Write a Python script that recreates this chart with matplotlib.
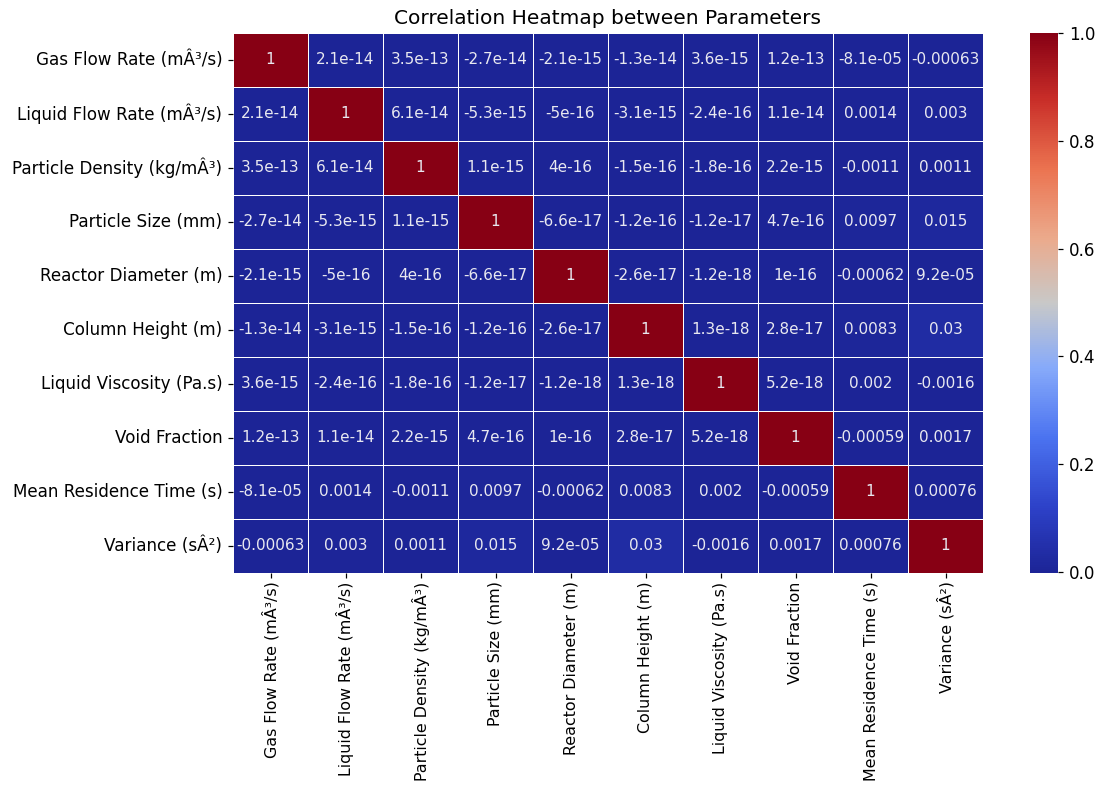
import numpy as np
import pandas as pd
import matplotlib
matplotlib.use('Agg')
import matplotlib.pyplot as plt
from matplotlib.colors import LinearSegmentedColormap
import seaborn as sns

# Nama parameter (label sumbu, termasuk karakter encoding asli)
params = [
    'Gas Flow Rate (mÂ³/s)',
    'Liquid Flow Rate (mÂ³/s)',
    'Particle Density (kg/mÂ³)',
    'Particle Size (mm)',
    'Reactor Diameter (m)',
    'Column Height (m)',
    'Liquid Viscosity (Pa.s)',
    'Void Fraction',
    'Mean Residence Time (s)',
    'Variance (sÂ²)',
]

# Baris matriks korelasi
row_gas_flow = [1, 2.1e-14, 3.5e-13, -2.7e-14, -2.1e-15, -1.3e-14, 3.6e-15, 1.2e-13, -8.1e-05, -0.00063]
row_liquid_flow = [2.1e-14, 1, 6.1e-14, -5.3e-15, -5e-16, -3.1e-15, -2.4e-16, 1.1e-14, 0.0014, 0.003]
row_density = [3.5e-13, 6.1e-14, 1, 1.1e-15, 4e-16, -1.5e-16, -1.8e-16, 2.2e-15, -0.0011, 0.0011]
row_size = [-2.7e-14, -5.3e-15, 1.1e-15, 1, -6.6e-17, -1.2e-16, -1.2e-17, 4.7e-16, 0.0097, 0.015]
row_diameter = [-2.1e-15, -5e-16, 4e-16, -6.6e-17, 1, -2.6e-17, -1.2e-18, 1e-16, -0.00062, 9.2e-05]
row_height = [-1.3e-14, -3.1e-15, -1.5e-16, -1.2e-16, -2.6e-17, 1, 1.3e-18, 2.8e-17, 0.0083, 0.03]
row_viscosity = [3.6e-15, -2.4e-16, -1.8e-16, -1.2e-17, -1.2e-18, 1.3e-18, 1, 5.2e-18, 0.002, -0.0016]
row_void = [1.2e-13, 1.1e-14, 2.2e-15, 4.7e-16, 1e-16, 2.8e-17, 5.2e-18, 1, -0.00059, 0.0017]
row_residence = [-8.1e-05, 0.0014, -0.0011, 0.0097, -0.00062, 0.0083, 0.002, -0.00059, 1, 0.00076]
row_variance = [-0.00063, 0.003, 0.0011, 0.015, 9.2e-05, 0.03, -0.0016, 0.0017, 0.00076, 1]

corr = pd.DataFrame(
    [row_gas_flow, row_liquid_flow, row_density, row_size, row_diameter,
     row_height, row_viscosity, row_void, row_residence, row_variance],
    index=params, columns=params,
)

# coolwarm versi lebih pekat (mengikuti warna pada gambar)
cmap = LinearSegmentedColormap.from_list('coolwarm_dark', [
    (0.00, (28/255, 36/255, 150/255)),
    (0.12, (45/255, 65/255, 200/255)),
    (0.25, (75/255, 115/255, 240/255)),
    (0.38, (135/255, 170/255, 250/255)),
    (0.50, (200/255, 200/255, 200/255)),
    (0.62, (235/255, 170/255, 140/255)),
    (0.75, (235/255, 115/255, 80/255)),
    (0.88, (200/255, 45/255, 40/255)),
    (1.00, (135/255, 0/255, 20/255)),
])

W, H = 1104, 791
fig = plt.figure(figsize=(W / 110, H / 110), dpi=110)
ax = fig.add_axes([233 / W, 1 - 573 / H, (983 - 233) / W, (573 - 33) / H])
cax = fig.add_axes([1030 / W, 1 - 573 / H, 28 / W, (573 - 33) / H])

sns.heatmap(corr, annot=True, cmap=cmap, linewidths=0.5, linecolor='white',
            annot_kws={'fontsize': 10, 'color': '#e8e8f0'}, ax=ax, cbar_ax=cax)
ax.set_title('Correlation Heatmap between Parameters', fontsize=13.2)
ax.tick_params(axis='y', labelsize=11)
ax.tick_params(axis='x', labelsize=10.4, pad=2)
cax.tick_params(labelsize=11)

fig.savefig('out.png', dpi=110)
